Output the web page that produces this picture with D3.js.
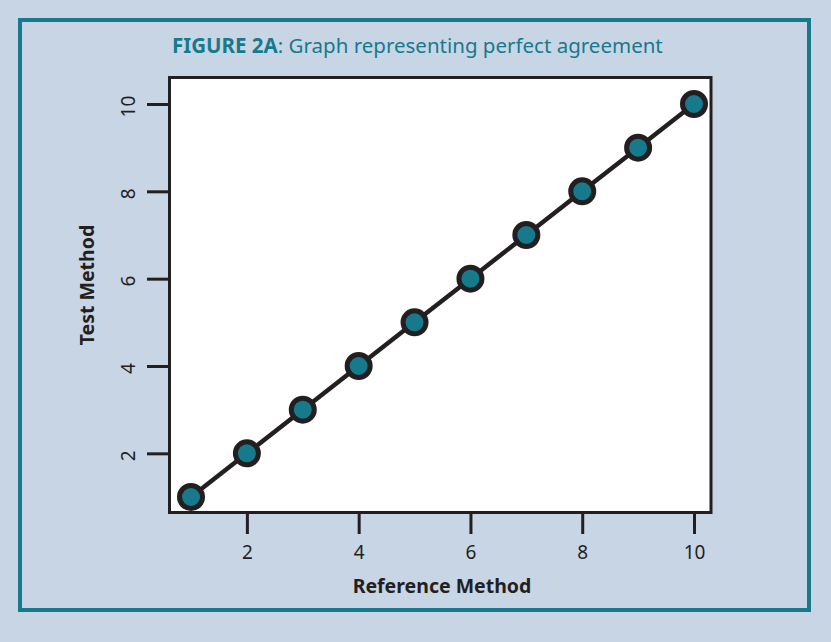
<!DOCTYPE html>
<html>
<head>
<meta charset="utf-8">
<script src="https://cdn.jsdelivr.net/npm/d3@7"></script>
<style>
  body { margin: 0; background: #c8d5e5; }
  svg { display: block; }
</style>
</head>
<body>
<div id="chart"></div>
<script>
// Data: reference method vs test method (perfect agreement)
var referenceValues = [1, 2, 3, 4, 5, 6, 7, 8, 9, 10];
var testValues = [1, 2, 3, 4, 5, 6, 7, 8, 9, 10];
var xTicks = [2, 4, 6, 8, 10];
var yTicks = [2, 4, 6, 8, 10];

var svgWidth = 831;
var svgHeight = 642;

var teal = "#167a8c";
var ink = "#231f20";

var svg = d3
  .select("#chart")
  .append("svg")
  .attr("width", svgWidth)
  .attr("height", svgHeight);

// outer frame
svg.append("rect")
  .attr("x", 20)
  .attr("y", 20)
  .attr("width", 789)
  .attr("height", 590)
  .attr("fill", "none")
  .attr("stroke", teal)
  .attr("stroke-width", 4);

// title
var title = svg.append("text")
  .attr("x", 172)
  .attr("y", 53)
  .style("font-family", "'Noto Sans', sans-serif")
  .style("font-size", "20.5px")
  .attr("fill", teal);
title.append("tspan").style("font-weight", "bold").text("FIGURE 2A");
title.append("tspan").text(": Graph representing perfect agreement");

// plot box
var box = { left: 169.5, top: 77.5, right: 711, bottom: 512.5 };

var xScale = d3.scaleLinear().domain([1, 10]).range([191, 694]);
var yScale = d3.scaleLinear().domain([1, 10]).range([497, 104]);

svg.append("rect")
  .attr("x", box.left)
  .attr("y", box.top)
  .attr("width", box.right - box.left)
  .attr("height", box.bottom - box.top)
  .attr("fill", "white")
  .attr("stroke", ink)
  .attr("stroke-width", 3);

// x axis
var bottomAxis = d3.axisBottom(xScale)
  .tickValues(xTicks)
  .tickSize(20)
  .tickPadding(12)
  .tickFormat(d3.format("d"));

var xAxis = svg.append("g")
  .attr("transform", `translate(0, ${box.bottom + 1.5})`)
  .call(bottomAxis);
xAxis.select(".domain").remove();
xAxis.selectAll("line").attr("stroke", ink).attr("stroke-width", 3);
xAxis.selectAll("text")
  .attr("fill", ink)
  .style("font-family", "'Noto Sans', sans-serif")
  .style("font-size", "19px");

// y axis
var leftAxis = d3.axisLeft(yScale)
  .tickValues(yTicks)
  .tickSize(21)
  .tickFormat(d3.format("d"));

var yAxis = svg.append("g")
  .attr("transform", `translate(${box.left - 1.5}, 0)`)
  .call(leftAxis);
yAxis.select(".domain").remove();
yAxis.selectAll("line").attr("stroke", ink).attr("stroke-width", 3);
yAxis.selectAll(".tick text")
  .attr("fill", ink)
  .attr("text-anchor", "middle")
  .attr("transform", "rotate(-90)")
  .attr("x", -2)
  .attr("y", -40)
  .attr("dy", "0.35em")
  .style("font-family", "'Noto Sans', sans-serif")
  .style("font-size", "19px");

// axis titles
svg.append("text")
  .attr("x", 442)
  .attr("y", 593)
  .attr("text-anchor", "middle")
  .attr("fill", ink)
  .style("font-family", "'Noto Sans', sans-serif")
  .style("font-size", "19.5px")
  .style("font-weight", "bold")
  .text("Reference Method");

svg.append("text")
  .attr("transform", "translate(94, 285) rotate(-90)")
  .attr("text-anchor", "middle")
  .attr("fill", ink)
  .style("font-family", "'Noto Sans', sans-serif")
  .style("font-size", "19.5px")
  .style("font-weight", "bold")
  .text("Test Method");

// line + points
var points = referenceValues.map((x, i) => ({ x: x, y: testValues[i] }));

var line = d3.line()
  .x((d) => xScale(d.x))
  .y((d) => yScale(d.y));

svg.append("path")
  .datum(points)
  .attr("d", line)
  .attr("fill", "none")
  .attr("stroke", ink)
  .attr("stroke-width", 4.5);

svg.selectAll("circle.pt")
  .data(points)
  .enter()
  .append("circle")
  .attr("class", "pt")
  .attr("cx", (d) => xScale(d.x))
  .attr("cy", (d) => yScale(d.y))
  .attr("r", 11.5)
  .attr("fill", teal)
  .attr("stroke", ink)
  .attr("stroke-width", 5);
</script>
</body>
</html>
